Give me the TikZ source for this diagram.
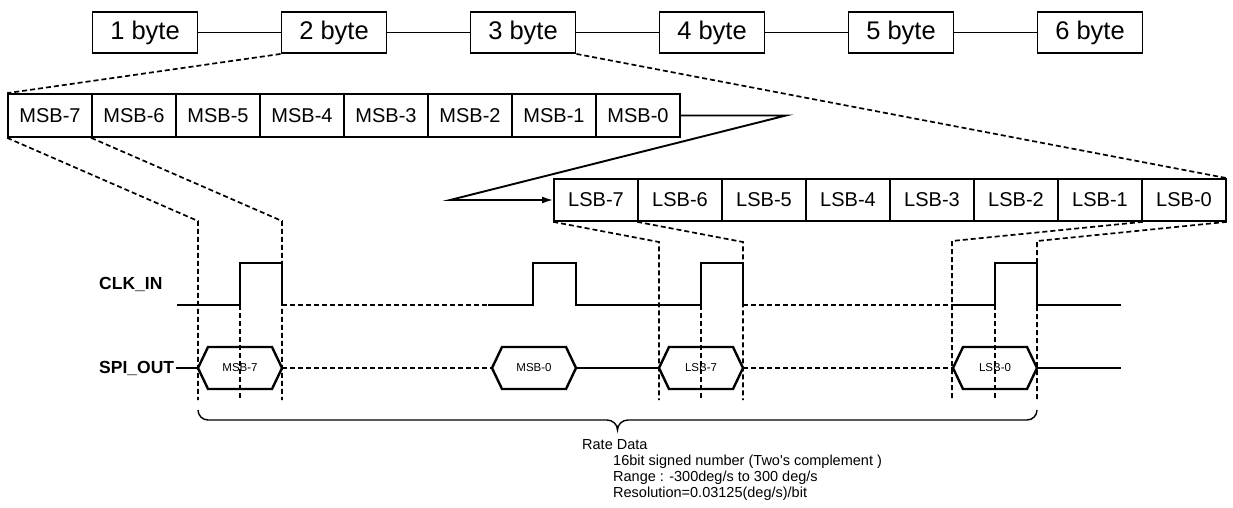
\documentclass[tikz,border=0pt]{standalone}
\usepackage{fontspec}
\setmainfont{Liberation Sans}
\usetikzlibrary{arrows.meta}

\newcommand{\busval}[3]{% name, x centre, label
  \node[bustext] (#1) at (#2,368) {#3};
  \draw[sig] (#1.center) ++(-42,0) -- ++(10,-21) -- ++(64,0) -- ++(10,21)
    -- ++(-10,21) -- ++(-64,0) -- cycle;}

\tikzset{
  bytebox/.style={draw, line width=1.9pt, inner sep=0pt, minimum width=105pt,
    minimum height=41pt, font=\fontsize{25.5}{28}\selectfont},
  bitcell/.style={draw, line width=1.7pt, inner sep=0pt, minimum width=84pt,
    minimum height=43pt, font=\fontsize{20}{24}\selectfont},
  link/.style={line width=1.9pt},
  guide/.style={line width=1.7pt, dash pattern=on 5pt off 3pt},
  sig/.style={line width=2.4pt, line join=miter},
  sigdash/.style={line width=2.1pt, dash pattern=on 5pt off 3pt},
  bustext/.style={inner sep=0pt, font=\fontsize{11.5}{13}\selectfont},
  siglabel/.style={inner sep=0pt, anchor=west, font=\fontsize{17.5}{20}\selectfont\bfseries},
  note/.style={inner sep=0pt, anchor=west, font=\fontsize{14.5}{16}\selectfont},
}

\begin{document}
\begin{tikzpicture}[x=1pt, y=-1pt]
\useasboundingbox (0,0) rectangle (1233,507);

% byte frame
\foreach \i in {1,...,6} {
  \node[bytebox] (b\i) at ({145+189*(\i-1)},32.5) {\i\ byte};
}
\foreach \i/\j in {1/2,2/3,3/4,4/5,5/6} {
  \draw[link] (b\i.east) -- (b\j.west);
}

% bits of the second byte (MSB)
\foreach \k [count=\n from 0] in {7,6,5,4,3,2,1,0} {
  \node[bitcell] (m\k) at ({50+84*\n},115.5) {MSB-\k};
}
% bits of the third byte (LSB)
\foreach \k [count=\n from 0] in {7,6,5,4,3,2,1,0} {
  \node[bitcell, minimum height=42pt] (l\k) at ({596+84*\n},200) {LSB-\k};
}

% expansion of the bytes into bits
\draw[guide] (b2.south west) -- (m7.north west);
\draw[guide] (b3.south east) -- (l0.north east);

% continuation from MSB row to LSB row
\coordinate (turnA) at (786,115.5);
\coordinate (turnB) at (450,200);
\draw[link, -{Latex[length=11pt,width=7pt]}] (m0.east) -- (turnA) -- (turnB) -- (l7.west);

% timing guides
\coordinate (g1) at (198,221);
\coordinate (g2) at (282,221);
\coordinate (g3) at (659,242);
\coordinate (g4) at (743,242);
\coordinate (g5) at (952,241);
\coordinate (g6) at (1037,241);
\draw[guide] (m7.south west) -- (g1) -- (198,400);
\draw[guide] (m6.south west) -- (g2) -- (282,400);
\draw[guide] (l7.south west) -- (g3) -- (659,400);
\draw[guide] (l6.south west) -- (g4) -- (743,400);
\draw[guide] (l1.south east) -- (g5) -- (952,400);
\draw[guide] (l0.south east) -- (g6) -- (1037,400);
\draw[guide] (240,305) -- (240,400);
\draw[guide] (701,305) -- (701,400);
\draw[guide] (995,305) -- (995,400);

% signal names
\node[siglabel] (clk) at (99,284) {CLK\_IN};
\node[siglabel] (spi) at (99,368) {SPI\_OUT};

% CLK_IN waveform
\draw[sig] (177,305) -- (240,305) -- (240,263) -- (282,263) -- (282,305);
\draw[sigdash] (282,305) -- (488,305);
\draw[sig] (488,305) -- (533,305) -- (533,263) -- (576,263) -- (576,305)
  -- (701,305) -- (701,263) -- (743,263) -- (743,305);
\draw[sigdash] (743,305) -- (952,305);
\draw[sig] (952,305) -- (995,305) -- (995,263) -- (1037,263) -- (1037,305) -- (1121,305);

% SPI_OUT waveform
\busval{d1}{240}{MSB-7}
\busval{d2}{534}{MSB-0}
\busval{d3}{701}{LSB-7}
\busval{d4}{995}{LSB-0}
\draw[sig] (spi.east) ++(2,0) -- (198,368);
\draw[sigdash] (282,368) -- (492,368);
\draw[sig] (576,368) -- (659,368);
\draw[sigdash] (743,368) -- (953,368);
\draw[sig] (1037,368) -- (1121,368);

% brace over the data word
\draw[line width=1.4pt] (198,410) to[out=-90,in=180] (208,420) -- (607,420)
  to[out=0,in=90] (617.5,430) to[out=90,in=180] (628,420) -- (1027,420)
  to[out=0,in=-90] (1037,410);

% description
\node[note] (rd) at (582,445) {Rate Data};
\node[note] (n1) at (613,462) {16bit signed number (Two\textquotesingle s complement )};
\node[note] (n2) at (613,478) {Range : -300deg/s to 300 deg/s};
\node[note] (n3) at (613,494) {Resolution=0.03125(deg/s)/bit};
\end{tikzpicture}
\end{document}
